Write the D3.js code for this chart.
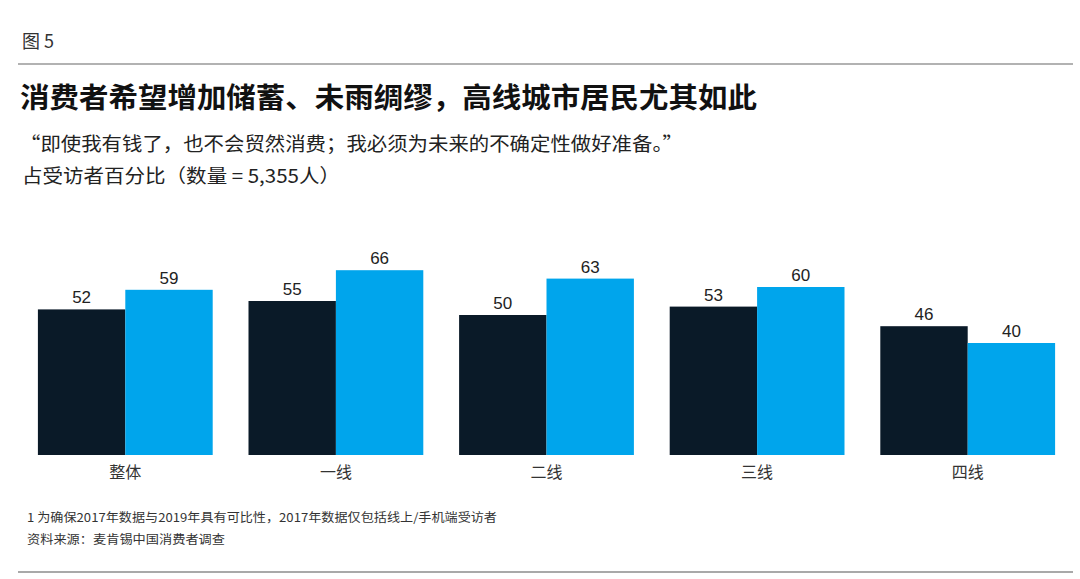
<!DOCTYPE html>
<html><head><meta charset="utf-8">
<script src="https://cdn.jsdelivr.net/npm/d3@7"></script>
<style>html,body{margin:0;padding:0;background:#fff;}svg{display:block;}</style>
</head><body>
<script>
const categories = ["整体", "一线", "二线", "三线", "四线"];
const seriesNames = ["2017", "2019"];
const values2017 = [52, 55, 50, 53, 46];
const values2019 = [59, 66, 63, 60, 40];
const seriesColors = ["#0a1a28", "#00a5ec"];

const W = 1080, H = 579;
const svg = d3.select("body").append("svg").attr("width", W).attr("height", H);
const cjk = "'Noto Sans CJK SC', 'Noto Sans', sans-serif";

// header
svg.append("text").attr("x", 22).attr("y", 48).attr("font-family", cjk)
  .attr("font-size", 18).attr("fill", "#333").text("图 5");
svg.append("line").attr("x1", 18).attr("x2", 1073).attr("y1", 64).attr("y2", 64)
  .attr("stroke", "#666").attr("stroke-width", 1.2);
svg.append("text").attr("x", 20).attr("y", 108).attr("font-family", cjk)
  .attr("font-size", 28).attr("font-weight", 700).attr("fill", "#111")
  .attr("textLength", 737).attr("lengthAdjust", "spacingAndGlyphs")
  .text("消费者希望增加储蓄、未雨绸缪，高线城市居民尤其如此");
svg.append("text").attr("x", 20).attr("y", 151).attr("font-family", cjk)
  .attr("font-size", 19).attr("fill", "#222")
  .attr("textLength", 663).attr("lengthAdjust", "spacingAndGlyphs")
  .text("“即使我有钱了，也不会贸然消费；我必须为未来的不确定性做好准备。”");
svg.append("text").attr("x", 22).attr("y", 183).attr("font-family", cjk)
  .attr("font-size", 19).attr("fill", "#222")
  .attr("textLength", 318).attr("lengthAdjust", "spacingAndGlyphs")
  .text("占受访者百分比（数量 = 5,355人）");

// chart
const x0 = d3.scaleBand().domain(categories).range([20, 1073]).paddingInner(0.17).paddingOuter(0.085);
const x1 = d3.scaleBand().domain(seriesNames).range([0, x0.bandwidth()]);
const y = d3.scaleLinear().domain([0, 100]).range([455, 175]);

const rows = categories.map((c, i) => ({cat: c, vals: [values2017[i], values2019[i]]}));
const g = svg.append("g");
const grp = g.selectAll("g.grp").data(rows).join("g").attr("class", "grp")
  .attr("transform", d => `translate(${x0(d.cat)},0)`);
grp.selectAll("rect").data(d => d.vals.map((v, j) => ({s: seriesNames[j], v, j})))
  .join("rect")
  .attr("x", d => x1(d.s)).attr("width", x1.bandwidth())
  .attr("y", d => y(d.v)).attr("height", d => y(0) - y(d.v))
  .attr("fill", d => seriesColors[d.j]);
grp.selectAll("text.val").data(d => d.vals.map((v, j) => ({s: seriesNames[j], v, j})))
  .join("text").attr("class", "val")
  .attr("x", d => x1(d.s) + x1.bandwidth() / 2).attr("y", d => y(d.v) - 6)
  .attr("text-anchor", "middle").attr("font-family", "'Liberation Sans', Arial, sans-serif")
  .attr("font-size", 17).attr("fill", "#222").text(d => d.v);

const xAxis = svg.append("g").attr("transform", `translate(0,${y(0)})`)
  .call(d3.axisBottom(x0).tickSize(0).tickPadding(12));
xAxis.select(".domain").remove();
xAxis.selectAll("text").attr("font-family", cjk).attr("font-size", 16).attr("fill", "#333");

// footer
svg.append("text").attr("x", 27).attr("y", 522).attr("font-family", cjk)
  .attr("font-size", 12).attr("fill", "#333")
  .attr("textLength", 470).attr("lengthAdjust", "spacingAndGlyphs")
  .text("1 为确保2017年数据与2019年具有可比性，2017年数据仅包括线上/手机端受访者");
svg.append("text").attr("x", 27).attr("y", 544).attr("font-family", cjk)
  .attr("font-size", 12).attr("fill", "#333")
  .attr("textLength", 198).attr("lengthAdjust", "spacingAndGlyphs")
  .text("资料来源：麦肯锡中国消费者调查");
svg.append("line").attr("x1", 18).attr("x2", 1073).attr("y1", 572).attr("y2", 572)
  .attr("stroke", "#555").attr("stroke-width", 1.2);
</script>
</body></html>
